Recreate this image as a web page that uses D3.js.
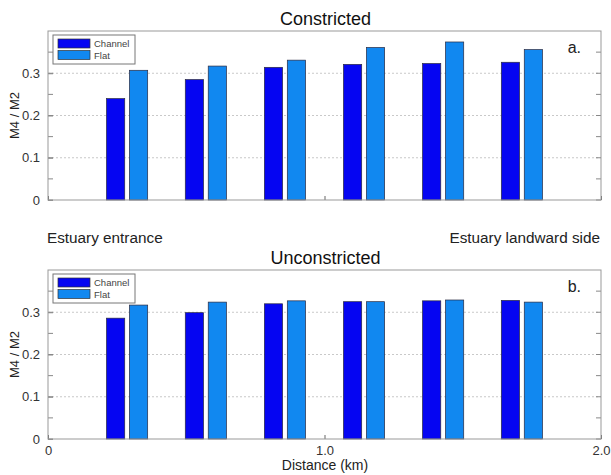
<!DOCTYPE html>
<html>
<head>
<meta charset="utf-8">
<script src="https://cdn.jsdelivr.net/npm/d3@7"></script>
<style>
  body { margin: 0; background: #fff; }
  svg { display: block; font-family: "Liberation Sans", Arial, sans-serif; }
</style>
</head>
<body>
<svg id="chart" width="611" height="475"></svg>
<script>
// Station positions along the estuary (km from the entrance)
const distances = [0.286, 0.571, 0.857, 1.143, 1.429, 1.714];
const seriesNames = ["Channel", "Flat"];

// M4/M2 amplitude ratio, constricted estuary
const constrictedChannel = [0.240, 0.285, 0.314, 0.321, 0.323, 0.326];
const constrictedFlat    = [0.307, 0.317, 0.331, 0.361, 0.374, 0.356];

// M4/M2 amplitude ratio, unconstricted estuary
const unconstrictedChannel = [0.286, 0.299, 0.320, 0.325, 0.327, 0.328];
const unconstrictedFlat    = [0.317, 0.324, 0.327, 0.325, 0.329, 0.324];

const xTickValues = [0, 1, 2];
const xTickLabels = ["0", "1.0", "2.0"];
const yTickValues = [0, 0.1, 0.2, 0.3];
const yTickLabels = ["0", "0.1", "0.2", "0.3"];
const yMinorTickValues = [0.05, 0.15, 0.25, 0.35];

const colors = { Channel: "#0505f2", Flat: "#1188f0" };

const svg = d3.select("#chart");
const left = 48, right = 601;

const x = d3.scaleLinear().domain([0, 2]).range([left, right]);
const barW = 0.066;    // bar width in km
const barOff = 0.0415; // half spacing between paired bars in km

function panel(cfg) {
  const y = d3.scaleLinear().domain([0, 0.4]).range([cfg.bottom, cfg.top]);
  const g = svg.append("g");

  // grid lines
  g.selectAll("line.grid").data(yTickValues.slice(1)).enter().append("line")
    .attr("x1", left).attr("x2", right)
    .attr("y1", d => y(d)).attr("y2", d => y(d))
    .attr("stroke", "#bbb").attr("stroke-width", 0.8)
    .attr("stroke-dasharray", "2,2");

  // bars
  const rows = distances.map((d, i) => [
    { s: "Channel", x: d - barOff, v: cfg.channel[i] },
    { s: "Flat", x: d + barOff, v: cfg.flat[i] }
  ]).flat();
  g.selectAll("rect.bar").data(rows).enter().append("rect")
    .attr("x", d => x(d.x - barW / 2))
    .attr("width", d => x(d.x + barW / 2) - x(d.x - barW / 2))
    .attr("y", d => y(d.v))
    .attr("height", d => y(0) - y(d.v))
    .attr("fill", d => colors[d.s])
    .attr("stroke", "#2a2a40").attr("stroke-width", 0.7);

  // y axis (left), labelled ticks
  const yAxis = d3.axisLeft(y).tickValues(yTickValues)
    .tickFormat((d, i) => yTickLabels[i]).tickSize(-5).tickPadding(8);
  const ya = g.append("g").attr("transform", `translate(${left},0)`).call(yAxis);
  ya.select(".domain").remove();
  ya.selectAll("line").attr("stroke", "#888");
  ya.selectAll("text").attr("font-size", 13).attr("fill", "#333");

  // minor ticks left and right
  const minor = yMinorTickValues.concat(yTickValues);
  g.selectAll("line.ml").data(minor).enter().append("line")
    .attr("x1", left).attr("x2", left + 5)
    .attr("y1", d => y(d)).attr("y2", d => y(d)).attr("stroke", "#888");
  g.selectAll("line.mr").data(minor).enter().append("line")
    .attr("x1", right - 5).attr("x2", right)
    .attr("y1", d => y(d)).attr("y2", d => y(d)).attr("stroke", "#888");

  // x axis
  const xAxis = d3.axisBottom(x).tickValues(xTickValues)
    .tickFormat((d, i) => cfg.showX ? xTickLabels[i] : "").tickSize(-4).tickPadding(7);
  const xa = g.append("g").attr("transform", `translate(0,${cfg.bottom})`).call(xAxis);
  xa.select(".domain").remove();
  xa.selectAll("line").attr("stroke", "#666");
  xa.selectAll("text").attr("font-size", 13).attr("fill", "#333");

  // axes box
  g.append("rect").attr("x", left).attr("y", cfg.top)
    .attr("width", right - left).attr("height", cfg.bottom - cfg.top)
    .attr("fill", "none").attr("stroke", "#999").attr("stroke-width", 1);

  // title
  g.append("text").attr("x", (left + right) / 2 + 1).attr("y", cfg.top - 6)
    .attr("text-anchor", "middle").attr("font-size", 18).attr("fill", "#111")
    .text(cfg.title);

  // panel letter
  g.append("text").attr("x", right - 20).attr("y", cfg.top + 22)
    .attr("text-anchor", "end").attr("font-size", 16).attr("fill", "#222")
    .text(cfg.letter);

  // y label
  g.append("text")
    .attr("transform", `translate(19,${(cfg.top + cfg.bottom) / 2}) rotate(-90)`)
    .attr("text-anchor", "middle").attr("font-size", 13).attr("fill", "#222")
    .text("M4 / M2");

  // legend
  const lg = g.append("g").attr("transform", `translate(${left + 5},${cfg.top + 4})`);
  lg.append("rect").attr("width", 82).attr("height", 29)
    .attr("fill", "#fff").attr("stroke", "#777").attr("stroke-width", 1);
  seriesNames.forEach((s, i) => {
    lg.append("rect").attr("x", 5).attr("y", 4 + i * 11.5).attr("width", 32).attr("height", 9)
      .attr("fill", colors[s]).attr("stroke", "#333").attr("stroke-width", 0.7);
    lg.append("text").attr("x", 41).attr("y", 12 + i * 11.5)
      .attr("font-size", 9.5).attr("fill", "#444").text(s);
  });
}

panel({ top: 31, bottom: 200, title: "Constricted", letter: "a.",
        channel: constrictedChannel, flat: constrictedFlat, showX: false });
panel({ top: 270, bottom: 439, title: "Unconstricted", letter: "b.",
        channel: unconstrictedChannel, flat: unconstrictedFlat, showX: true });

svg.append("text").attr("x", 47).attr("y", 243).attr("font-size", 15.3).attr("fill", "#222")
  .text("Estuary entrance");
svg.append("text").attr("x", 600).attr("y", 243).attr("text-anchor", "end")
  .attr("font-size", 15.3).attr("fill", "#222").text("Estuary landward side");
svg.append("text").attr("x", 325).attr("y", 470).attr("text-anchor", "middle")
  .attr("font-size", 14).attr("fill", "#222").text("Distance (km)");
</script>
</body>
</html>
